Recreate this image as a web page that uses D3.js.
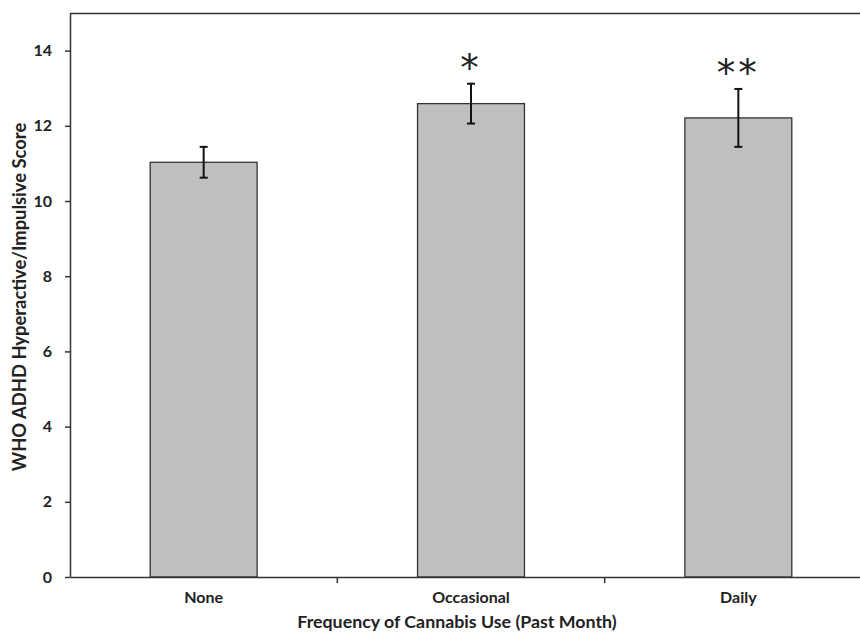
<!DOCTYPE html>
<html lang="en">
<head>
    <meta charset="UTF-8">
    <title>Cannabis use and ADHD score</title>
    <script src="https://cdn.jsdelivr.net/npm/d3@7/dist/d3.min.js"></script>
    <style>
        body { margin: 0; background: #fff; }
        text { font-family: Lato, "Open Sans", sans-serif; font-weight: bold; fill: #222; }
    </style>
</head>
<body>
    <script>
        const categories = ['None', 'Occasional', 'Daily'];
        const means = [11.03, 12.59, 12.21];
        const errors = [0.41, 0.53, 0.77];
        const marks = ['', '*', '**'];
        const yTicks = [0, 2, 4, 6, 8, 10, 12, 14];

        const width = 860, height = 632;
        const margin = {top: 13, right: -12, bottom: 55, left: 70};
        const innerW = width - margin.left - margin.right;
        const innerH = height - margin.top - margin.bottom;

        const svg = d3.select('body').append('svg').attr('width', width).attr('height', height);
        const g = svg.append('g').attr('transform', `translate(${margin.left},${margin.top})`);

        const x = d3.scaleBand().domain(categories).range([0, innerW]).paddingInner(0.6).paddingOuter(0.3);
        const xBand = d3.scaleBand().domain(categories).range([0, innerW]);
        const y = d3.scaleLinear().domain([0, 15]).range([innerH, 0]);

        // top frame line
        g.append('line').attr('x1', 0).attr('x2', width).attr('y1', 0.5).attr('y2', 0.5)
            .attr('stroke', '#333').attr('stroke-width', 1.5);

        // bars
        g.selectAll('rect.bar').data(categories).enter().append('rect')
            .attr('class', 'bar')
            .attr('x', d => x(d))
            .attr('width', x.bandwidth())
            .attr('y', (d, i) => y(means[i]))
            .attr('height', (d, i) => y(0) - y(means[i]))
            .attr('fill', '#bfbfbf')
            .attr('stroke', '#333')
            .attr('stroke-width', 1.3);

        // error bars
        const eb = g.selectAll('g.err').data(categories).enter().append('g')
            .attr('class', 'err')
            .attr('transform', d => `translate(${x(d) + x.bandwidth() / 2},0)`);
        eb.append('line')
            .attr('y1', (d, i) => y(means[i] + errors[i]))
            .attr('y2', (d, i) => y(means[i] - errors[i]))
            .attr('stroke', '#111').attr('stroke-width', 2);
        eb.append('line').attr('x1', -4).attr('x2', 4)
            .attr('y1', (d, i) => y(means[i] + errors[i]))
            .attr('y2', (d, i) => y(means[i] + errors[i]))
            .attr('stroke', '#111').attr('stroke-width', 2);
        eb.append('line').attr('x1', -4).attr('x2', 4)
            .attr('y1', (d, i) => y(means[i] - errors[i]))
            .attr('y2', (d, i) => y(means[i] - errors[i]))
            .attr('stroke', '#111').attr('stroke-width', 2);

        // significance marks
        eb.append('text')
            .attr('y', (d, i) => y(means[i] + errors[i]) - 3)
            .attr('text-anchor', 'middle')
            .style('font-family', '"DejaVu Sans", sans-serif')
            .style('font-weight', 'normal')
            .style('font-size', '37px')
            .style('letter-spacing', '3px')
            .attr('fill', '#111')
            .text((d, i) => marks[i]);

        // y axis
        const yAxis = g.append('g')
            .call(d3.axisLeft(y).tickValues(yTicks).tickSize(5).tickPadding(13).tickSizeOuter(0));
        yAxis.select('.domain').attr('stroke', '#333').attr('stroke-width', 1.5);
        yAxis.selectAll('.tick line').attr('stroke', '#333').attr('stroke-width', 1.5);
        yAxis.selectAll('text').style('font-size', '16px');

        // x axis
        const xAxis = g.append('g').attr('transform', `translate(0,${innerH})`)
            .call(d3.axisBottom(xBand).tickSize(0).tickSizeOuter(0).tickPadding(15));
        xAxis.select('.domain').attr('stroke', '#333').attr('stroke-width', 1.5);
        xAxis.selectAll('text').style('font-size', '16px');
        // boundary ticks between categories
        xAxis.selectAll('line.sep').data(categories.slice(1)).enter().append('line')
            .attr('class', 'sep')
            .attr('x1', d => xBand(d)).attr('x2', d => xBand(d))
            .attr('y1', 0).attr('y2', 6)
            .attr('stroke', '#333').attr('stroke-width', 1.5);

        // axis titles
        svg.append('text')
            .attr('x', 457).attr('y', 628)
            .attr('text-anchor', 'middle')
            .style('font-size', '17.8px')
            .text('Frequency of Cannabis Use (Past Month)');
        svg.append('text')
            .attr('transform', 'translate(26,297) rotate(-90)')
            .attr('text-anchor', 'middle')
            .style('font-size', '18.4px')
            .text('WHO ADHD Hyperactive/Impulsive Score');
    </script>
</body>
</html>
